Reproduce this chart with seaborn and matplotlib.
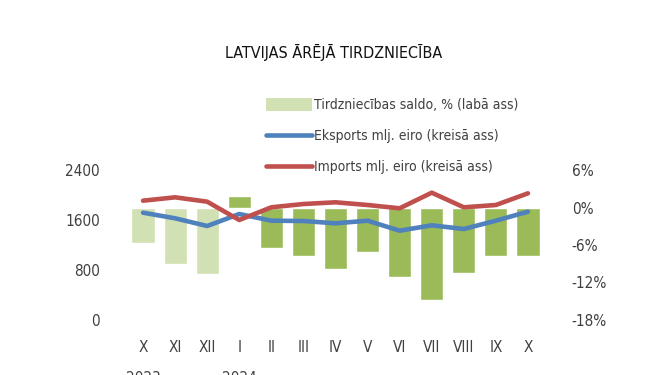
import numpy as np
import pandas as pd
import matplotlib
matplotlib.use("Agg")
import matplotlib.pyplot as plt
import matplotlib.ticker as mticker
from matplotlib.patches import Patch
from matplotlib.lines import Line2D
import seaborn as sns

MONTHS = ["X", "XI", "XII", "I", "II", "III", "IV", "V", "VI", "VII", "VIII", "IX", "X"]
PERIOD = ["2023", "2023", "2023", "2024", "2024", "2024", "2024", "2024", "2024", "2024", "2024", "2024", "2024"]
YEAR_LABELS = {0: "2023", 3: "2024"}

saldo   = [-5.7, -9.0, -10.6, 1.9, -6.4, -7.8, -9.9, -7.1, -11.1, -14.8, -10.4, -7.8, -7.8]
exports = [1717, 1627, 1504, 1696, 1589, 1584, 1547, 1589, 1429, 1515, 1456, 1589, 1733]
imports = [1909, 1963, 1893, 1600, 1803, 1856, 1883, 1840, 1787, 2037, 1803, 1840, 2027]

LIGHT_GREEN = "#D2E1B4"
GREEN = "#9BBB59"
BLUE = "#4F81BD"
RED = "#C0504D"
TXT = "#404040"

sns.set_style("white")
plt.rcParams["font.family"] = ["DejaVu Sans"]
plt.rcParams["font.stretch"] = "condensed"

pos = np.arange(len(MONTHS))
df = pd.DataFrame({"pos": pos, "period": PERIOD, "saldo": saldo, "exports": exports, "imports": imports})

fig = plt.figure(figsize=(6.65, 3.75), dpi=100)
ax_bar = fig.add_axes([127 / 665, 1 - 320 / 375, 417 / 665, 150 / 375])
sns.barplot(data=df, x="pos", y="saldo", hue="period", palette={"2023": LIGHT_GREEN, "2024": GREEN},
            dodge=False, width=0.72, legend=False, ax=ax_bar, saturation=1)
ax_bar.set_ylim(-18, 6)
ax_bar.yaxis.set_major_locator(mticker.MultipleLocator(6))
ax_bar.yaxis.set_major_formatter(mticker.FuncFormatter(lambda v, _: f"{int(round(v))}%"))
ax_bar.set_xlim(-0.5, len(MONTHS) - 0.5)
ax_bar.set_xticks(pos)
ax_bar.set_xticklabels(MONTHS)
ax_bar.set_xlabel("")
ax_bar.set_ylabel("")

ax_line = ax_bar.twinx()
sns.lineplot(x=df["pos"], y=df["exports"], ax=ax_line, color=BLUE, linewidth=3.3, sort=False)
sns.lineplot(x=df["pos"], y=df["imports"], ax=ax_line, color=RED, linewidth=3.3, sort=False)
ax_line.set_ylim(0, 2400)
ax_line.yaxis.set_major_locator(mticker.MultipleLocator(800))
ax_line.set_xlim(-0.5, len(MONTHS) - 0.5)
ax_line.set_xlabel("")
ax_line.set_ylabel("")
# swap sides: bars (saldo) on the right, lines on the left
ax_bar.yaxis.tick_right()
ax_line.yaxis.tick_left()

for a in (ax_bar, ax_line):
    for s in a.spines.values():
        s.set_visible(False)
    a.tick_params(length=0, labelsize=11, colors=TXT)
    a.grid(False)
ax_bar.tick_params(axis="y", pad=20)
ax_line.tick_params(axis="y", pad=19.5)
ax_bar.tick_params(axis="x", pad=14.5)

for i, yr in YEAR_LABELS.items():
    ax_bar.text(i, -0.34, yr, transform=ax_bar.get_xaxis_transform(), ha="center", va="top",
                fontsize=11, color=TXT)

fig.text(0.502, 1 - 52 / 375, "LATVIJAS ĀRĒJĀ TIRDZNIECĪBA", ha="center", va="center",
         fontsize=11.5, color="#111111")

handles = [Patch(facecolor=LIGHT_GREEN, edgecolor="none"),
           Line2D([], [], color=BLUE, linewidth=3.3, solid_capstyle="round"),
           Line2D([], [], color=RED, linewidth=3.3, solid_capstyle="round")]
labels = ["Tirdzniecības saldo, % (labā ass)",
          "Eksports mlj. eiro (kreisā ass)",
          "Imports mlj. eiro (kreisā ass)"]
fig.legend(handles, labels, loc="upper left", bbox_to_anchor=(266 / 665, 1 - 98 / 375), frameon=False,
           fontsize=10, handlelength=3.3, handleheight=1.1, handletextpad=0.15, labelspacing=1.2,
           labelcolor=TXT, borderaxespad=0, borderpad=0)

plt.savefig("out.png", dpi=100)
plt.close()
